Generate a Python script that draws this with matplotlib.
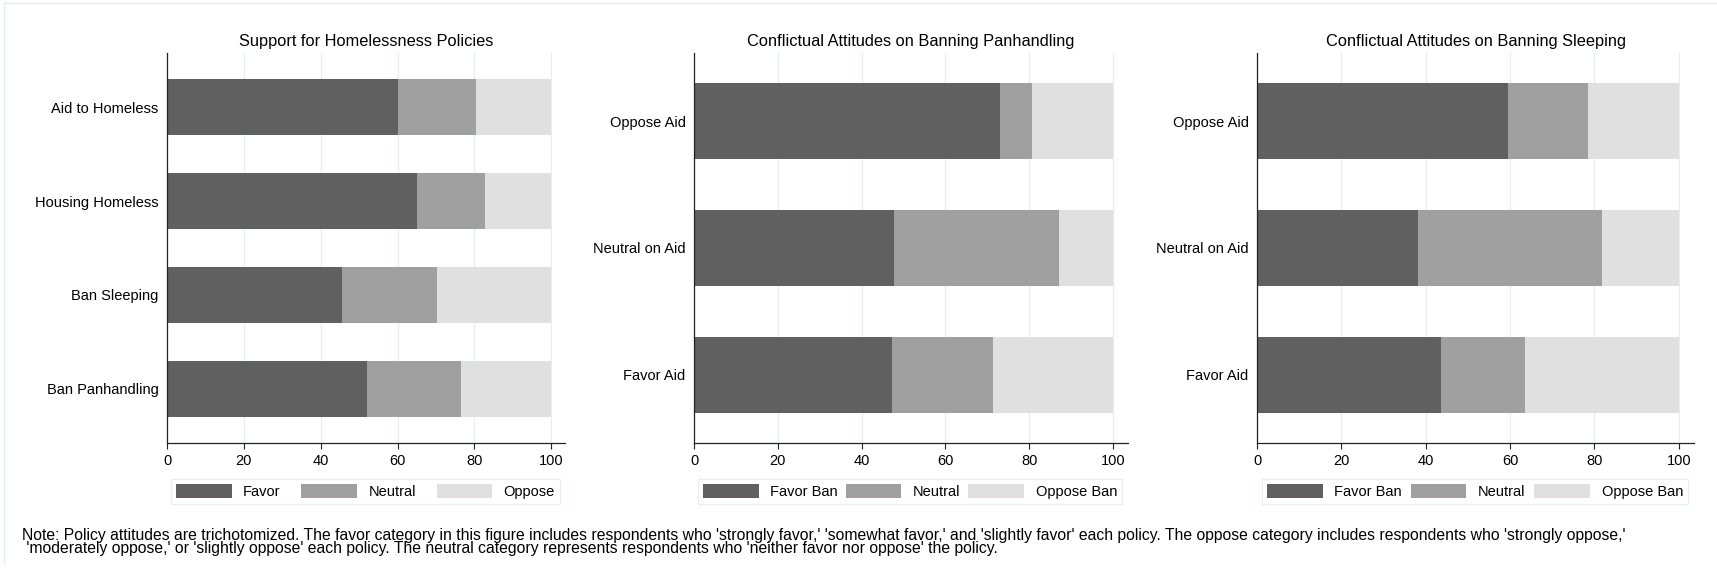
from __future__ import annotations

import numpy as np
import matplotlib
matplotlib.use("Agg")
import matplotlib.pyplot as plt
from matplotlib.lines import Line2D


plt.rcParams["font.family"] = ["Liberation Sans", "DejaVu Sans"]

# panel 1: overall support by policy (percent)
policies = ["Aid to Homeless", "Housing Homeless", "Ban Sleeping", "Ban Panhandling"]
policy_favor = [60.1, 65.0, 45.6, 52.1]
policy_neutral = [20.4, 17.8, 24.6, 24.4]
policy_oppose = [19.5, 17.2, 29.8, 23.5]

# panels 2-3: attitude toward a ban, split by attitude toward aid
aid_groups = ["Oppose Aid", "Neutral on Aid", "Favor Aid"]
panh_favor = [73.0, 47.7, 47.3]
panh_neutral = [7.8, 39.4, 24.0]
panh_oppose = [19.2, 12.9, 28.7]
sleep_favor = [59.4, 38.1, 43.6]
sleep_neutral = [19.0, 43.7, 20.0]
sleep_oppose = [21.6, 18.2, 36.4]

policy_labels = ["Favor", "Neutral", "Oppose"]
ban_labels = ["Favor Ban", "Neutral", "Oppose Ban"]

COLORS = ["#606060", "#a0a0a0", "#e0e0e0"]
GRID = "#e6eff0"
W, H = 1717, 573


def fx(px):
    return px / W


def fy(py):
    return 1 - py / H


def stacked_panel(ax, cats, series, labels, title, pad, leg_box):
    y = np.arange(len(cats))[::-1]
    left = np.zeros(len(cats))
    handles = []
    for vals, color, lab in zip(series, COLORS, labels):
        vals = np.asarray(vals, dtype=float)
        b = ax.barh(y, vals, left=left, height=0.6, color=color,
                    edgecolor="none", label=lab, zorder=2)
        handles.append(b)
        left = left + vals

    ax.set_xlim(0, 103.6)
    ax.set_ylim(-pad, len(cats) - 1 + pad)
    ax.set_yticks(y)
    ax.set_yticklabels(cats, fontsize=10.5)
    ax.set_xticks([0, 20, 40, 60, 80, 100])
    ax.tick_params(axis="x", labelsize=10.5, length=4, width=0.8,
                   color="#222222", pad=4)
    ax.tick_params(axis="y", length=0, pad=6)
    ax.grid(axis="x", color=GRID, linewidth=0.9, zorder=0)
    ax.set_axisbelow(True)
    for side in ["top", "right"]:
        ax.spines[side].set_visible(False)
    for side in ["left", "bottom"]:
        ax.spines[side].set_color("#222222")
        ax.spines[side].set_linewidth(0.9)
    ax.set_title(title, fontsize=11.8, pad=5)

    x0, x1, ytop, ybot = leg_box
    leg = ax.legend(
        handles, labels,
        loc="lower left",
        bbox_to_anchor=(fx(x0), fy(ybot), fx(x1) - fx(x0), fy(ytop) - fy(ybot)),
        bbox_transform=ax.figure.transFigure,
        ncol=3, mode="expand", fontsize=10.5,
        handlelength=3.8, handleheight=1.1, handletextpad=0.8,
        borderaxespad=0, borderpad=0.35, fancybox=False,
        frameon=True, edgecolor="#e3ecec",
    )
    leg.get_frame().set_linewidth(0.9)


fig = plt.figure(figsize=(W / 100, H / 100), dpi=100)

panels = [
    (167, 565, policies, [policy_favor, policy_neutral, policy_oppose],
     policy_labels, "Support for Homelessness Policies", 0.58,
     (171, 560, 477, 504)),
    (694, 1128, aid_groups, [panh_favor, panh_neutral, panh_oppose],
     ban_labels, "Conflictual Attitudes on Banning Panhandling", 0.54,
     (698, 1122, 477, 504)),
    (1257, 1694, aid_groups, [sleep_favor, sleep_neutral, sleep_oppose],
     ban_labels, "Conflictual Attitudes on Banning Sleeping", 0.54,
     (1262, 1688, 477, 504)),
]

for left_px, right_px, cats, series, labels, title, pad, leg_box in panels:
    ax = fig.add_axes([fx(left_px), fy(443), fx(right_px - left_px), (443 - 53) / H])
    stacked_panel(ax, cats, series, labels, title, pad, leg_box)

note = (
    "Note: Policy attitudes are trichotomized. The favor category in this figure "
    "includes respondents who 'strongly favor,' 'somewhat favor,' and 'slightly favor' "
    "each policy. The oppose category includes respondents who 'strongly oppose,'\n"
    " 'moderately oppose,' or 'slightly oppose' each policy. The neutral category "
    "represents respondents who 'neither favor nor oppose' the policy."
)
fig.text(fx(22), fy(528), note, fontsize=11.3, va="top", ha="left",
         linespacing=0.85)

# light frame around the graph region
fig.add_artist(Line2D([fx(4), 1], [fy(3), fy(3)], color="#e6ecec", linewidth=1))
fig.add_artist(Line2D([fx(4), fx(4)], [fy(3), fy(563)], color="#e6ecec", linewidth=1))

fig.savefig("out.png", dpi=100, facecolor="white")
